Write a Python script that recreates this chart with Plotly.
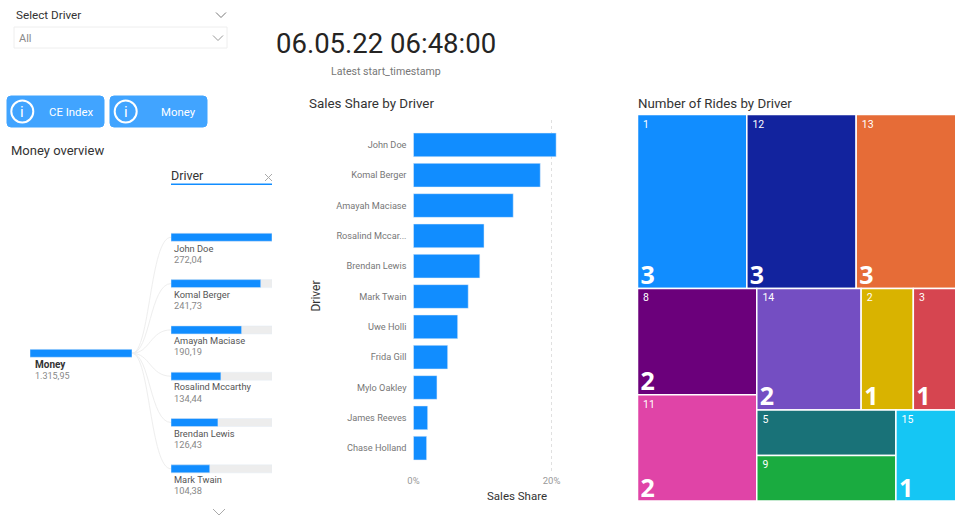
import plotly.graph_objects as go

W = 970
H = 515

# money tree
tree_drivers = ["John Doe", "Komal Berger", "Amayah Maciase", "Rosalind Mccarthy", "Brendan Lewis", "Mark Twain"]
tree_money = [272.04, 241.73, 190.19, 134.44, 126.43, 104.38]
tree_labels = ["272,04", "241,73", "190,19", "134,44", "126,43", "104,38"]
total_money = 1315.95

# sales share
share_drivers = ["John Doe", "Komal Berger", "Amayah Maciase", "Rosalind Mccarthy", "Brendan Lewis", "Mark Twain",
                 "Uwe Holli", "Frida Gill", "Mylo Oakley", "James Reeves", "Chase Holland"]
share_ticks = ["John Doe", "Komal Berger", "Amayah Maciase", "Rosalind Mccar...", "Brendan Lewis", "Mark Twain",
               "Uwe Holli", "Frida Gill", "Mylo Oakley", "James Reeves", "Chase Holland"]
share_values = [20.67, 18.37, 14.45, 10.22, 9.61, 7.93, 6.4, 4.95, 3.4, 2.05, 1.9]

# rides treemap
ride_ids = ["1", "12", "13", "8", "11", "14", "2", "3", "5", "9", "15"]
ride_counts = [3, 3, 3, 2, 2, 2, 1, 1, 1, 1, 1]
ride_big_text = ["3", "3", "3", "2", "2", "2", "1", "1", "", "", "1"]
ride_colors = ["#118DFF", "#12239E", "#E66C37", "#6B007B", "#E044A7", "#744EC2",
               "#D9B300", "#D64550", "#197278", "#1AAB40", "#15C6F4"]

TITLE_FONT = "Roboto"
BODY_FONT = "Roboto"
BIG_FONT = "Open Sans"
BLUE = "#118DFF"


def dx(a, b):
    return [a / W, b / W]


def dy(top, bottom):
    return [1 - bottom / H, 1 - top / H]


def px(x):
    return x / W


def py(y):
    return 1 - y / H


annotations = []
shapes = []


def add_text(x, y, text, size, color, font=BODY_FONT, anchor="left", angle=0):
    annotations.append(dict(
        x=px(x), y=py(y), xref="paper", yref="paper", text=text, showarrow=False,
        xanchor=anchor, yanchor="middle", textangle=angle, borderpad=0,
        font=dict(family=font, size=size, color=color),
    ))


def add_path(path, color, width=1, fill=None):
    shapes.append(dict(
        type="path", path=path, xref="paper", yref="paper",
        line=dict(color=color, width=width), fillcolor=fill, layer="below",
    ))


def chevron(x, y, half, drop, color="#777777"):
    add_path(f"M {px(x - half)} {py(y - drop / 2)} L {px(x)} {py(y + drop / 2)} L {px(x + half)} {py(y - drop / 2)}", color)


def button(x0, x1, y0, y1, label, label_x, icon_x):
    r = 4
    path = (f"M {px(x0 + r)} {py(y0)} L {px(x1 - r)} {py(y0)} Q {px(x1)} {py(y0)} {px(x1)} {py(y0 + r)} "
            f"L {px(x1)} {py(y1 - r)} Q {px(x1)} {py(y1)} {px(x1 - r)} {py(y1)} "
            f"L {px(x0 + r)} {py(y1)} Q {px(x0)} {py(y1)} {px(x0)} {py(y1 - r)} "
            f"L {px(x0)} {py(y0 + r)} Q {px(x0)} {py(y0)} {px(x0 + r)} {py(y0)} Z")
    add_path(path, "#41A4FF", 1, "#41A4FF")
    cy = (y0 + y1) / 2
    shapes.append(dict(type="circle", xref="paper", yref="paper", x0=px(icon_x - 11), x1=px(icon_x + 11),
                       y0=py(cy + 11), y1=py(cy - 11), line=dict(color="white", width=2)))
    add_text(icon_x, cy, "i", 15, "white", anchor="center")
    add_text(label_x, cy, label, 11.4, "white", anchor="center")


fig = go.Figure()

# Sales share bars
fig.add_trace(go.Bar(
    x=share_values, y=share_drivers, orientation="h", width=0.78,
    marker_color=BLUE, hoverinfo="skip", xaxis="x", yaxis="y",
))

# Tree bars, grey track then blue value
fig.add_trace(go.Bar(
    x=[max(tree_money)] * len(tree_money), y=tree_drivers, orientation="h", width=0.173,
    marker_color="#EDEDED", hoverinfo="skip", xaxis="x2", yaxis="y2",
))
fig.add_trace(go.Bar(
    x=tree_money, y=tree_drivers, orientation="h", width=0.173,
    marker_color=BLUE, hoverinfo="skip", xaxis="x2", yaxis="y2",
))
fig.add_trace(go.Bar(
    x=[total_money], y=["Money"], orientation="h", width=0.33,
    marker_color=BLUE, hoverinfo="skip", xaxis="x3", yaxis="y3",
))

# Treemap, colours and small labels
tiling = dict(pad=0, packing="squarify", squarifyratio=1.618)
fig.add_trace(go.Treemap(
    ids=ride_ids, labels=ride_ids, parents=[""] * len(ride_ids), values=ride_counts,
    marker=dict(colors=ride_colors, line=dict(color="white", width=1.5), pad=dict(t=0, l=0, r=0, b=0)),
    tiling=tiling, pathbar=dict(visible=False), domain=dict(x=dx(637.5, 965.5), y=dy(114.5, 501)), sort=True,
    texttemplate="\u00a0%{label}", textposition="top left",
    textfont=dict(family=BODY_FONT, size=10.5, color="white"), hoverinfo="skip",
))
# Same treemap again, see-through and moved down a little, only for the big counts
fig.add_trace(go.Treemap(
    ids=ride_ids, labels=ride_ids, parents=[""] * len(ride_ids), values=ride_counts,
    text=ride_big_text,
    marker=dict(colors=["rgba(0,0,0,0)"] * len(ride_ids), line=dict(color="rgba(0,0,0,0)", width=1.5),
                pad=dict(t=0, l=0, r=0, b=0)),
    tiling=tiling, pathbar=dict(visible=False), domain=dict(x=dx(637.5, 965.5), y=dy(120, 506.5)), sort=True,
    texttemplate="<b>%{text}</b>", textposition="bottom left",
    textfont=dict(family=BIG_FONT, size=25, color="white"), hoverinfo="skip",
))

# Header
add_text(15, 15, "Select Driver", 11.7, "#333333", TITLE_FONT)
chevron(221, 15, 5, 5)
shapes.append(dict(type="rect", xref="paper", yref="paper", x0=px(14), x1=px(227), y0=py(48), y1=py(27),
                   line=dict(color="#EEEEEE", width=1)))
add_text(17.5, 39, "All", 11, "#8A8A8A")
chevron(218, 38, 5, 5, "#999999")
add_text(385.5, 43, "06.05.22 06:48:00", 27.5, "#252423", TITLE_FONT, anchor="center")
add_text(385.5, 71, "Latest start_timestamp", 10.6, "#777777", anchor="center")

# Buttons
button(7, 104, 96, 127, "CE Index", 71, 22.3)
button(110, 207, 96, 127, "Money", 178, 125.7)

# Tree texts and connectors
add_text(10, 150, "Money overview", 13, "#333333", TITLE_FONT)
add_text(170, 176, "Driver", 12.5, "#333333", TITLE_FONT)
shapes.append(dict(type="line", xref="paper", yref="paper", x0=px(171), x1=px(272), y0=py(184.3), y1=py(184.3),
                   line=dict(color=BLUE, width=1.5)))
shapes.append(dict(type="line", xref="paper", yref="paper", x0=px(265), x1=px(272), y0=py(174), y1=py(181),
                   line=dict(color="#AAAAAA", width=1)))
shapes.append(dict(type="line", xref="paper", yref="paper", x0=px(265), x1=px(272), y0=py(181), y1=py(174),
                   line=dict(color="#AAAAAA", width=1)))
add_text(33.5, 364.7, "<b>Money</b>", 10, "#333333")
add_text(33.5, 375.5, "1.315,95", 9, "#888888")
for i, (name, label) in enumerate(zip(tree_drivers, tree_labels)):
    bar_y = 237.3 + i * 46.3
    add_text(173.2, bar_y + 10.7, name, 9.3, "#555555")
    add_text(173.2, bar_y + 22, label, 9.3, "#888888")
    add_path(f"M {px(132)} {py(353.3)} C {px(150)} {py(353.3)} {px(150)} {py(bar_y)} {px(171)} {py(bar_y)}", "#EEEEEE")
chevron(219, 512, 6, 6, "#AAAAAA")

# Chart titles
add_text(308, 103.5, "Sales Share by Driver", 13.4, "#333333", TITLE_FONT)
add_text(636.5, 103.5, "Number of Rides by Driver", 13.3, "#333333", TITLE_FONT)
add_text(315, 296.5, "Driver", 12, "#333333", TITLE_FONT, anchor="center", angle=-90)
add_text(517, 495.5, "Sales Share", 11.5, "#333333", TITLE_FONT, anchor="center")

fig.update_layout(
    width=W, height=H, autosize=False, margin=dict(l=0, r=0, t=0, b=0, autoexpand=False),
    paper_bgcolor="white", plot_bgcolor="white", showlegend=False, barmode="overlay",
    annotations=annotations, shapes=shapes,
    xaxis=dict(domain=dx(412.5, 570), range=[-0.145, 22.68], tickvals=[0, 20], ticktext=["0%", "20%"],
               showgrid=True, griddash="dot", gridcolor="#E0E0E0", gridwidth=1, zeroline=False,
               showline=False, tickfont=dict(family=BODY_FONT, size=9.5, color="#999999"), anchor="y"),
    yaxis=dict(domain=dy(120, 473), type="category", categoryorder="array", categoryarray=share_drivers,
               range=[10.82, -0.82], tickvals=share_drivers, ticktext=share_ticks, ticklabelstandoff=5,
               showgrid=False, zeroline=False, showline=False,
               tickfont=dict(family=BODY_FONT, size=9.2, color="#777777"), anchor="x"),
    xaxis2=dict(domain=dx(171, 272), range=[0, max(tree_money)], visible=False, anchor="y2"),
    yaxis2=dict(domain=dy(214.15, 492), type="category", categoryorder="array", categoryarray=tree_drivers,
                range=[5.5, -0.5], visible=False, anchor="x2"),
    xaxis3=dict(domain=dx(30, 132), range=[0, total_money], visible=False, anchor="y3"),
    yaxis3=dict(domain=dy(341.3, 365.3), type="category", range=[0.5, -0.5], visible=False, anchor="x3"),
)

fig.write_html("out.html", config=dict(displayModeBar=False),
               post_script="document.body.style.margin='0';document.body.style.overflow='hidden';")
